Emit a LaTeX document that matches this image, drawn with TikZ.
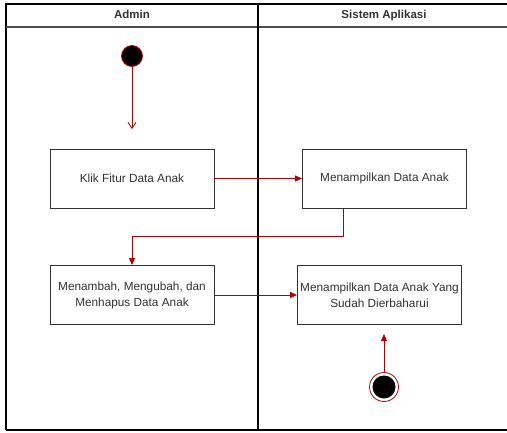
\documentclass[tikz,border=0pt]{standalone}
\usepackage{fontspec}
\setmainfont{Liberation Sans}
\usetikzlibrary{arrows.meta}
\definecolor{flowred}{HTML}{B20000}
\definecolor{ringred}{HTML}{CC0000}
\definecolor{boxline}{HTML}{333333}
\definecolor{labeltext}{HTML}{333333}
\tikzset{
  actbox/.style={draw=boxline, line width=0.9pt, fill=white, minimum width=164pt,
    minimum height=59pt, inner sep=0pt, align=center, text=labeltext,
    font=\fontsize{11.8}{16}\selectfont},
  flow/.style={draw=flowred, line width=0.8pt, -{Triangle[length=7pt,width=6pt]}},
  openflow/.style={draw=flowred, line width=0.8pt, -{Straight Barb[length=6pt,width=8pt]}},
  lanetitle/.style={font=\bfseries\fontsize{11.5}{13}\selectfont, text=labeltext,
    text height=8.5pt, text depth=2.5pt, inner sep=0pt},
}
\begin{document}
\begin{tikzpicture}[x=1pt, y=-1pt]
\useasboundingbox (0,0) rectangle (507,432);
\fill[white] (0,0) rectangle (507,432);
% swimlane frame
\draw[line width=1.2pt] (6,430) -- (6,4) -- (510,4);
\draw[line width=1.2pt] (6,430) -- (510,430);
\draw[line width=1.1pt, draw=black!70] (6,27) -- (510,27);
\draw[line width=1.2pt] (258,4) -- (258,430);
\node[lanetitle] (laneA) at (132,15.5) {Admin};
\node[lanetitle] (laneB) at (384,15.5) {Sistem Aplikasi};
% start node
\node[circle, fill=black, draw=ringred, line width=0.8pt, minimum size=21pt, inner sep=0pt] (start) at (132,56) {};
\coordinate (startend) at (132,129);
% activities
\node[actbox] (klik) at (132,178.5) {Klik Fitur Data Anak};
\node[actbox] (tampil) at (384.5,178.5) {Menampilkan Data Anak};
\node[actbox] (ubah) at (132,295) {Menambah, Mengubah, dan\\Menhapus Data Anak};
\node[actbox] (hasil) at (379.5,295) {Menampilkan Data Anak Yang\\Sudah Dierbaharui};
% end node
\node[circle, draw=ringred, line width=0.8pt, fill=white, minimum size=29pt, inner sep=0pt] (finish) at (384,387) {};
\node[circle, fill=black, minimum size=23pt, inner sep=0pt] (finishdot) at (finish.center) {};
\coordinate (finishend) at (384,334);
% connectors
\draw[openflow] (start) -- (startend);
\draw[flow] (klik.east) -- (tampil.west);
\draw[flow] (343,208) -- (343,236) -| (ubah.north);
\draw[flow] (ubah.east) -- (hasil.west);
\draw[flow] (finish) -- (finishend);
\end{tikzpicture}
\end{document}
